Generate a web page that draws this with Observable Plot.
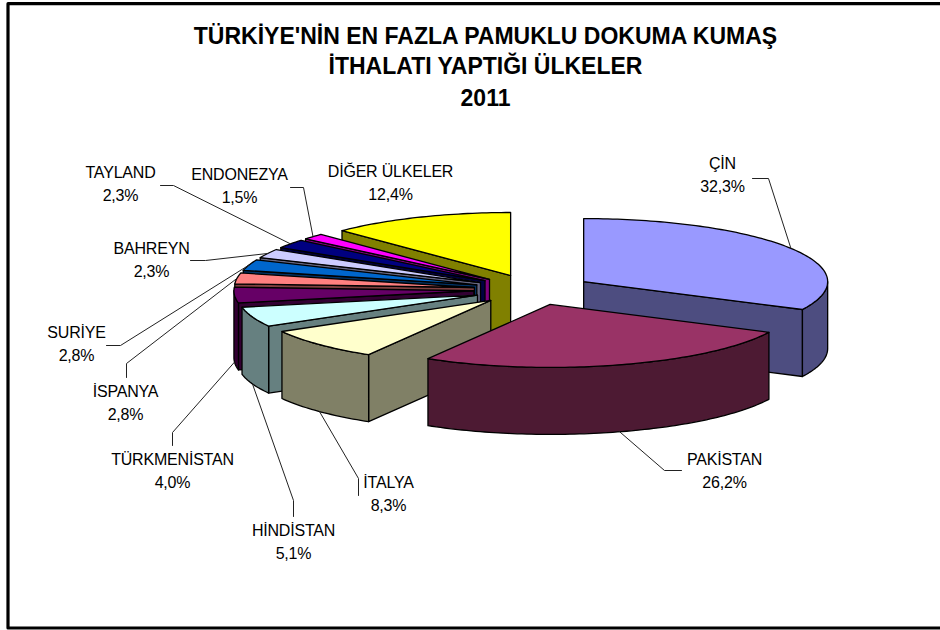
<!DOCTYPE html>
<html>
<head>
<meta charset="utf-8">
<script src="https://cdn.jsdelivr.net/npm/d3@7"></script>
<script src="https://cdn.jsdelivr.net/npm/@observablehq/plot@0.6"></script>
<style>
html,body{margin:0;padding:0;background:#fff;overflow:hidden}
svg{display:block}
.lbl text{letter-spacing:-.2px}
</style>
</head>
<body>
<div id="chart"></div>
<script>
// --- chart values ---
const countries = ["ÇİN","PAKİSTAN","İTALYA","HİNDİSTAN","TÜRKMENİSTAN","İSPANYA","SURİYE","BAHREYN","TAYLAND","ENDONEZYA","DİĞER ÜLKELER"];
const shares = [32.3,26.2,8.3,5.1,4.0,2.8,2.8,2.3,2.3,1.5,12.4];
const topColors = ["#9999FF","#993366","#FFFFCC","#CCFFFF","#660066","#FF8080","#0066CC","#CCCCFF","#000080","#FF00FF","#FFFF00"];
const sideColors = ["#4D4D80","#4D1A33","#808066","#668080","#330033","#804040","#003366","#666680","#000040","#800080","#808000"];
const titleLines = ["TÜRKİYE'NİN EN FAZLA PAMUKLU DOKUMA KUMAŞ","İTHALATI YAPTIĞI ÜLKELER","2011"];
const drawOrder = [0,10,9,8,7,6,5,4,3,2,1];

// --- layout (not data) ---
const W = 940, H = 630;
const center = [532.7, 289.2], rxRight = 244, rxLeft = 240, ry = 63, depth = 67, explode = 0.2435;
const labelPos = [[722,163],[724,459],[388,482],[293,530],[172,459],[125,391],[76,332],[151,248],[120,172],[239,174],[390,171]];
const elbows = [
  [[768,178],[752,178]],
  [[664,470],[681,470]],
  [[358,478],[358,495]],
  [[293,500],[293,516]],
  [[172,432],[172,445]],
  [[126,363],[126,377]],
  [[120,345],[106,345]],
  [[205,260],[190,260]],
  [[173,185],[160,185]],
  [[303,187],[290,187]],
  []
];

// --- geometry derived from the shares ---
const total = d3.sum(shares);
let acc = 0;
const slices = shares.map((v, i) => {
  const a0 = acc / total * 2 * Math.PI; acc += v;
  const a1 = acc / total * 2 * Math.PI;
  const mid = (a0 + a1) / 2;
  const cx = center[0] + explode * rxRight * Math.sin(mid);
  const cy = center[1] - explode * ry * Math.cos(mid);
  return {i, a0, a1, mid, cx, cy};
});
const pt = (s, a, dz = 0) => {
  const sn = Math.sin(a);
  return {x: s.cx + (sn > 0 ? rxRight : rxLeft) * sn, y: s.cy - ry * Math.cos(a) + dz};
};
const arc = (s, a0, a1, dz = 0) => {
  const n = Math.max(2, Math.ceil(Math.abs(a1 - a0) / 0.02));
  return d3.range(n + 1).map(k => pt(s, a0 + (a1 - a0) * k / n, dz));
};
const polys = [];
function add(id, fill, points) {
  const p = [...points, points[0]];
  for (const q of p) polys.push({id, fill, x: q.x, y: q.y});
}
for (const i of drawOrder) {
  const s = slices[i];
  const apex = {x: s.cx, y: s.cy};
  const apexLow = {x: s.cx, y: s.cy + depth};
  // radial faces visible from the viewer
  if (Math.sin(s.a1) > 0.001) add(`e${i}`, sideColors[i], [apex, pt(s, s.a1), pt(s, s.a1, depth), apexLow]);
  if (Math.sin(s.a0) < -0.001) add(`s${i}`, sideColors[i], [apex, pt(s, s.a0), pt(s, s.a0, depth), apexLow]);
  // outer wall: front half of the ellipse only
  const w0 = Math.max(s.a0, Math.PI / 2), w1 = Math.min(s.a1, 1.5 * Math.PI);
  if (w1 > w0) add(`w${i}`, sideColors[i], [...arc(s, w0, w1), ...arc(s, w1, w0, depth)]);
  // top
  add(`t${i}`, topColors[i], [apex, ...arc(s, s.a0, s.a1)]);
}

const leaders = [];
slices.forEach((s, i) => {
  if (!elbows[i].length) return;
  const front = s.mid > Math.PI / 2 && s.mid < 1.5 * Math.PI;
  const a = pt(s, s.mid, front ? depth : 0);
  [a, ...elbows[i].map(([x, y]) => ({x, y}))].forEach(q => leaders.push({id: i, x: q.x, y: q.y}));
});

const labels = countries.flatMap((c, i) => [
  {x: labelPos[i][0], y: labelPos[i][1], t: c},
  {x: labelPos[i][0], y: labelPos[i][1] + 23, t: shares[i].toFixed(1).replace(".", ",") + "%"}
]);
const titles = titleLines.map((t, i) => ({t, x: 485, y: [36, 66, 98][i]}));
const border = [{x: 960, y: 3.2}, {x: 7.5, y: 3.2}, {x: 7.5, y: 627.5}, {x: 960, y: 627.5}];

const plot = Plot.plot({
  width: W, height: H, margin: 0,
  x: {domain: [0, W], range: [0, W], axis: null},
  y: {domain: [0, H], range: [0, H], axis: null},
  color: {type: "identity"},
  style: {background: "#fff", overflow: "hidden"},
  marks: [
    Plot.line(border, {x: "x", y: "y", stroke: "#000", strokeWidth: 3.2, curve: "linear"}),
    Plot.line(polys, {x: "x", y: "y", z: "id", fill: "fill", stroke: "#000", strokeWidth: 1.3, strokeLinejoin: "round", curve: "linear"}),
    Plot.line(leaders, {x: "x", y: "y", z: "id", stroke: "#222", strokeWidth: 1, curve: "linear"}),
    Plot.text(labels, {x: "x", y: "y", text: "t", fill: "#000", fontFamily: "Liberation Sans", fontSize: 16, textAnchor: "middle", lineAnchor: "middle", className: "lbl"}),
    Plot.text(titles, {x: "x", y: "y", text: "t", fill: "#000", fontFamily: "Liberation Sans", fontSize: 23, fontWeight: "bold", textAnchor: "middle", lineAnchor: "middle"})
  ]
});
document.getElementById("chart").appendChild(plot);
</script>
</body>
</html>
